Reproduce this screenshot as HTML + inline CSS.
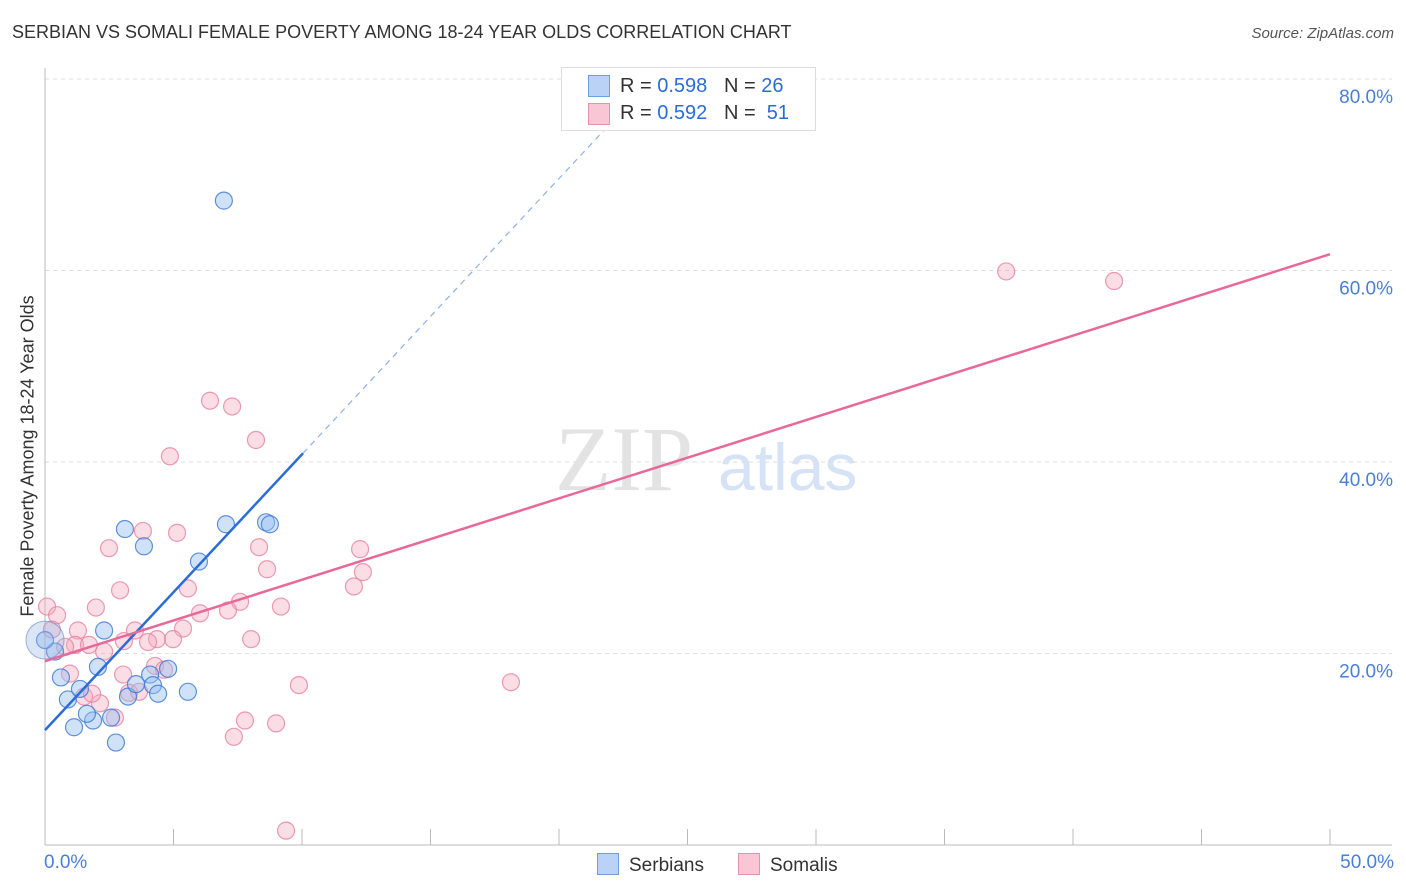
<!DOCTYPE html>
<html><head><meta charset="utf-8"><style>
body{margin:0;background:#fff;font-family:"Liberation Sans",sans-serif;}
#wrap{position:relative;width:1406px;height:892px;overflow:hidden;}
.t{position:absolute;white-space:nowrap;}
</style></head><body><div id="wrap">
<div class="t" style="left:12px;top:22px;font-size:18px;color:#333;">SERBIAN VS SOMALI FEMALE POVERTY AMONG 18-24 YEAR OLDS CORRELATION CHART</div>
<div class="t" style="right:12px;top:25px;font-size:15px;color:#555;font-style:italic;">Source: ZipAtlas.com</div>
<svg id="svg" width="1406" height="892" style="position:absolute;left:0;top:0"></svg>
</div>
<script>
const serbX=[6.96,3.11,3.85,5.99,7.04,8.60,8.75,2.30,0.39,0.0,0.62,0.89,1.36,2.06,1.13,1.87,1.63,2.76,2.57,3.23,3.54,4.09,4.20,4.40,4.79,5.56];
const serbY=[67.3,33.0,31.2,29.6,33.5,33.7,33.5,22.4,20.2,21.4,17.5,15.2,16.3,18.6,12.3,13.0,13.7,10.7,13.3,15.5,16.8,17.8,16.7,15.8,18.4,16.0];
const somX=[37.4,41.6,6.42,7.28,8.21,4.86,3.81,5.14,2.49,8.33,12.26,8.64,12.37,5.56,2.92,12.02,1.98,7.59,9.18,7.12,6.03,0.08,0.47,0.27,1.28,1.17,5.37,3.50,3.07,4.36,4.98,4.01,8.02,1.71,2.30,0.78,4.28,4.63,0.97,3.04,2.14,1.52,1.83,3.27,3.66,2.72,9.88,18.13,7.78,8.99,7.35,9.38];
const somY=[59.9,58.9,46.4,45.8,42.3,40.6,32.8,32.6,31.0,31.1,30.9,28.8,28.5,26.8,26.6,27.0,24.8,25.4,24.9,24.5,24.2,24.9,24.0,22.5,22.4,20.9,22.6,22.4,21.3,21.5,21.5,21.2,21.5,20.9,20.2,20.7,18.7,18.3,17.9,17.8,14.8,15.5,15.8,15.9,16.0,13.3,16.7,17.0,13.0,12.7,11.3,1.5];
const yTicks=[20,40,60,80];
const yTickLabels=["20.0%","40.0%","60.0%","80.0%"];
const xTicks=[0,5,10,15,20,25,30,35,40,45,50];
const serbTrend=[12.0,2.88]; // intercept, slope
const somTrend=[19.2,0.85];
const X=v=>45+v*25.7, Y=v=>845-v*9.575;
const svg=document.getElementById('svg');const NS='http://www.w3.org/2000/svg';
function mk(tag,attrs,parent){const e=document.createElementNS(NS,tag);for(const k in attrs)e.setAttribute(k,attrs[k]);(parent||svg).appendChild(e);return e;}
yTicks.forEach((v,i)=>{
 const g=mk('line',{x1:45,x2:1392,y1:Y(v),y2:Y(v),stroke:'#ddd','stroke-dasharray':'4,4'});
 
 
 const t=mk('text',{x:1393,y:Y(v)+24,'text-anchor':'end','font-size':19,fill:'#4a7fd6'});t.textContent=yTickLabels[i];
 
 
});
const ax=mk('line',{x1:45,x2:1392,y1:845,y2:845,stroke:'#bbb'});


const ay=mk('line',{x1:45,x2:45,y1:68,y2:845,stroke:'#bbb'});


xTicks.forEach(v=>{const l=mk('line',{x1:X(v),x2:X(v),y1:829,y2:845,stroke:'#bbb'});
 
 });
const wm=mk('text',{x:555,y:490,'font-size':92,fill:'#e3e3e3','font-family':'Liberation Serif'});wm.textContent='ZIP';


const wm2=mk('text',{x:718,y:490,'font-size':66,fill:'#d6e2f5'});wm2.textContent='atlas';


function dots(xs,ys,fill,stroke,name){xs.forEach((x,i)=>{const c=mk('circle',{cx:X(x),cy:Y(ys[i]),r:8.5,fill:fill,stroke:stroke,'stroke-width':1.2});
 
 });}
dots(somX,somY,'rgba(246,170,192,0.4)','rgba(230,130,160,0.8)','somali-point');
dots(serbX,serbY,'rgba(150,190,240,0.45)','rgba(60,120,210,0.8)','serbian-point');
const big=mk('circle',{cx:X(0),cy:Y(21.4),r:19,fill:'rgba(150,180,230,0.35)',stroke:'rgba(100,130,200,0.6)'});


const sl=mk('line',{x1:X(0),y1:Y(serbTrend[0]),x2:X(10.04),y2:Y(serbTrend[0]+serbTrend[1]*10.04),stroke:'#2a6dd6','stroke-width':2.5});


const sd=mk('line',{x1:X(10.04),y1:Y(serbTrend[0]+serbTrend[1]*10.04),x2:X(21.8),y2:Y(serbTrend[0]+serbTrend[1]*21.8),stroke:'#8fb0e6','stroke-width':1.2,'stroke-dasharray':'6,5'});


const pl=mk('line',{x1:X(0),y1:Y(somTrend[0]),x2:X(50),y2:Y(somTrend[0]+somTrend[1]*50),stroke:'#e8689a','stroke-width':2.5});


</script>
<div class="t" style="left:28px;top:456px;transform:translate(-50%,-50%) rotate(-90deg);font-size:18px;color:#333;">Female Poverty Among 18-24 Year Olds</div>
<div class="t" style="left:44px;top:852px;font-size:19px;color:#4a7fd6;">0.0%</div>
<div class="t" style="right:12px;top:852px;font-size:19px;color:#4a7fd6;">50.0%</div>
<div style="position:absolute;left:561px;top:67px;width:253px;height:62px;border:1px solid #ddd;background:#fff;font-size:20px;color:#333;">
 <div class="t" style="left:26px;top:7px;width:20px;height:20px;background:#b9d2f5;border:1px solid #6f9de0;"></div>
 <div class="t" style="left:58px;top:7px;">R = <span style="color:#2a6dd6">0.598</span>&nbsp;&nbsp;&nbsp;N = <span style="color:#2a6dd6">26</span></div>
 <div class="t" style="left:26px;top:35px;width:20px;height:20px;background:#f9c6d5;border:1px solid #e890ad;"></div>
 <div class="t" style="left:58px;top:34px;">R = <span style="color:#2a6dd6">0.592</span>&nbsp;&nbsp;&nbsp;N = &nbsp;<span style="color:#2a6dd6">51</span></div>
</div>
<div style="position:absolute;left:597px;top:853px;font-size:19px;color:#333;">
 <span style="position:absolute;left:0;top:0;white-space:nowrap;"><span style="display:inline-block;width:20px;height:20px;background:#b9d2f5;border:1px solid #6f9de0;vertical-align:-4px;margin-right:10px;"></span>Serbians</span>
 <span style="position:absolute;left:141px;top:0;white-space:nowrap;"><span style="display:inline-block;width:20px;height:20px;background:#f9c6d5;border:1px solid #e890ad;vertical-align:-4px;margin-right:10px;"></span>Somalis</span>
</div>
</body></html>
